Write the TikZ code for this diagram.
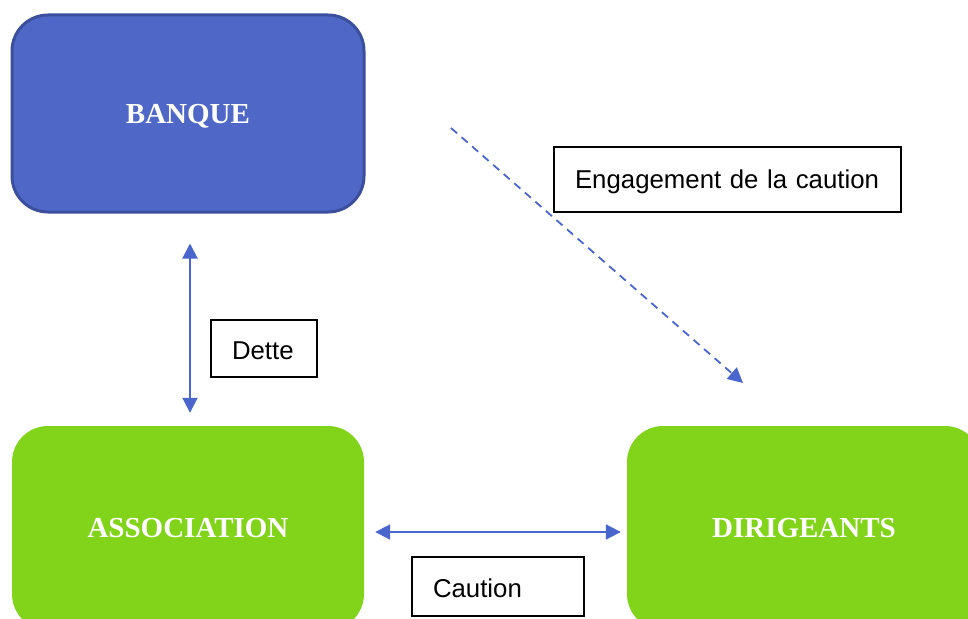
\documentclass[tikz,border=0pt]{standalone}
\usepackage{fontspec}
\setmainfont{Liberation Serif}
\newfontfamily\arialf{Liberation Sans}
\usetikzlibrary{arrows.meta}
\definecolor{bfill}{HTML}{4F68C8}
\definecolor{bline}{HTML}{3B4F9C}
\definecolor{gfill}{HTML}{82D41A}
\definecolor{arrc}{HTML}{4A66CC}
\tikzset{
  bigbox/.style={rounded corners=36pt, minimum width=352pt, inner sep=0pt,
    text height=19pt, text depth=0pt,
    text=white, font=\fontsize{29}{34}\selectfont\bfseries},
  lbl/.style={draw=black, line width=1.1pt, fill=white, inner xsep=21pt, inner ysep=0pt,
    text height=21pt, text depth=0pt,
    align=left, font=\arialf\fontsize{25.8}{30}\selectfont, anchor=center},
  arr/.style={draw=arrc, line width=2pt, {Triangle[width=15pt,length=15pt]}-{Triangle[width=15pt,length=15pt]}},
  darr/.style={draw=arrc, line width=1.8pt, dash pattern=on 8pt off 6pt, -{Triangle[width=15pt,length=15pt]}}
}
\begin{document}
\begin{tikzpicture}[x=1pt,y=-1pt]
\useasboundingbox (0,0) rectangle (968,618);
\clip (0,0) rectangle (968,618);
\node[bigbox, fill=bfill, draw=bline, line width=3pt, minimum height=197pt] (banque) at (188,113.5) {BANQUE};
\node[bigbox, fill=gfill, minimum height=204pt] (assoc) at (188,528) {ASSOCIATION};
\node[bigbox, fill=gfill, minimum width=354pt, minimum height=204pt] (dirig) at (804,528) {DIRIGEANTS};
\node[lbl, text width=64pt, minimum height=57pt] (dette) at (264,348.5) {Dette};
\node[lbl, text width=130pt, minimum height=59pt] (caution) at (498,586.5) {Caution};
\node[lbl, text width=305pt, minimum height=65pt, text height=17pt] (engag) at (727.5,179.5) {Engagement de la caution};
\draw[arr] ([xshift=2pt,yshift=-30pt]banque.south) -- ([xshift=2pt,yshift=13pt]assoc.north);
\draw[arr] ([xshift=11pt,yshift=-4pt]assoc.east) -- ([xshift=-6pt,yshift=-4pt]dirig.west);
\coordinate (dstart) at (451,128);
\coordinate (dend) at (743,383);
\draw[darr] (dstart) -- (dend);
\end{tikzpicture}
\end{document}
